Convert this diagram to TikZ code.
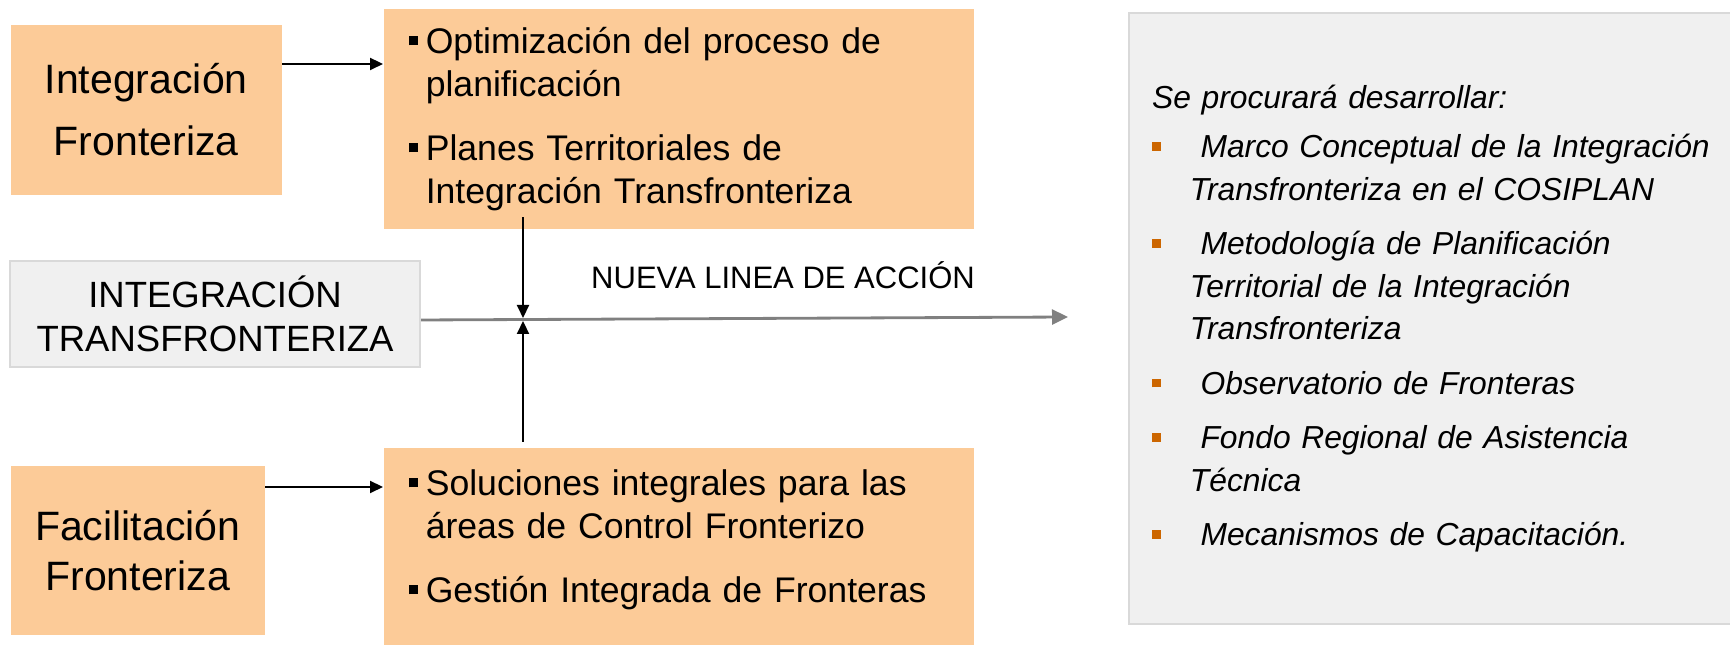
\documentclass[tikz,border=0pt]{standalone}
\usepackage{fontspec}
\setmainfont{Liberation Sans}
\usetikzlibrary{arrows.meta,calc,positioning}

\definecolor{boxPeach}{RGB}{252,203,152}
\definecolor{panelGray}{RGB}{240,240,240}
\definecolor{panelLine}{RGB}{217,217,217}
\definecolor{lineGray}{RGB}{128,128,128}
\definecolor{bulletOrange}{RGB}{204,102,0}

\newcommand{\sqbullet}{\rule[0.22em]{0.27em}{0.27em}}
\newcommand{\boxitem}[1]{\hangindent=0.48em\hangafter=1\noindent\makebox[0.48em][l]{\sqbullet}#1\par}
\newcommand{\panelitem}[1]{\hangindent=1.19em\hangafter=1\noindent\makebox[1.19em][l]{\textcolor{bulletOrange}{\sqbullet}}\ #1\par}

\tikzstyle{titleBox}=[fill=boxPeach, inner sep=0pt, anchor=north west, align=center]
\tikzstyle{listBox}=[fill=boxPeach, anchor=north west, inner xsep=0.25cm, inner ysep=0pt, text width=5.40cm, align=left, font=\fontsize{10.13}{12.23}\selectfont]
\tikzstyle{grayBox}=[fill=panelGray, draw=panelLine, line width=0.6pt, anchor=north west]
\tikzstyle{flow}=[line width=0.6pt, -{Triangle[length=1.3mm,width=1.2mm]}]
\tikzstyle{actionLine}=[color=lineGray, line width=0.8pt, -{Triangle[length=1.6mm,width=1.5mm]}]

\begin{document}
\begin{tikzpicture}
    \useasboundingbox (0,0) rectangle (17.30,-6.45);

    % left column
    \node[titleBox, minimum width=2.71cm, minimum height=1.70cm, font=\fontsize{11.67}{17.64}\selectfont] (intFront) at (0.10,-0.24) {Integración\\Fronteriza};
    \node[grayBox, minimum width=4.10cm, minimum height=1.06cm, inner sep=0pt, align=center, font=\fontsize{10.39}{12.52}\selectfont] (intTrans) at (0.09,-2.60) {INTEGRACIÓN\\TRANSFRONTERIZA};
    \node[titleBox, minimum width=2.54cm, minimum height=1.69cm, font=\fontsize{11.67}{14.23}\selectfont] (facFront) at (0.10,-4.65) {Facilitación\\Fronteriza};

    % middle column
    \node[listBox, minimum height=2.20cm] (intPlans) at (3.83,-0.08) {\setlength{\parskip}{5.98pt}%
        \boxitem{Optimización del proceso de\newline planificación}
        \boxitem{Planes Territoriales de\newline Integración Transfronteriza}};
    \node[listBox, minimum height=1.98cm] (facSolutions) at (3.83,-4.47) {\setlength{\parskip}{5.98pt}%
        \boxitem{Soluciones integrales para las\newline áreas de Control Fronterizo}
        \boxitem{Gestión Integrada de Fronteras\rule[-0.22cm]{0pt}{0.22cm}}};
    \node[font=\fontsize{8.82}{10}\selectfont, anchor=base] (newLine) at (7.83,-2.89) {NUEVA LINEA DE ACCIÓN};

    % right panel
    \node[grayBox, minimum width=6.20cm, minimum height=6.11cm, inner xsep=0.23cm, inner ysep=0pt, text width=5.74cm, align=left, font=\itshape\fontsize{9.05}{12.09}\selectfont] (plan) at (11.28,-0.12) {\setlength{\parskip}{3.41pt}%
        Se procurará desarrollar:\par\vspace{-1.3pt}
        \panelitem{Marco Conceptual de la Integración\newline Transfronteriza en el COSIPLAN}
        \panelitem{Metodología de Planificación\newline Territorial de la Integración\newline Transfronteriza}
        \panelitem{Observatorio de Fronteras}
        \panelitem{Fondo Regional de Asistencia\newline Técnica}
        \panelitem{Mecanismos de Capacitación.}};

    % points on the action line
    \coordinate (cross) at (5.23,-3.195);
    \coordinate (lineEnd) at (10.68,-3.17);

    % arrows
    \draw[flow] (intFront.east |- 0,-0.64) -- (intPlans.west |- 0,-0.64);
    \draw[flow] (facFront.east |- 0,-4.87) -- (facSolutions.west |- 0,-4.87);
    \draw[actionLine] (intTrans.east |- 0,-3.20) -- (lineEnd);
    \draw[flow] ($(intPlans.south -| cross)+(0,0.12)$) -- ($(cross)+(0,0.015)$);
    \draw[flow] ($(facSolutions.north -| cross)+(0,0.05)$) -- ($(cross)-(0,0.015)$);

\end{tikzpicture}
\end{document}
